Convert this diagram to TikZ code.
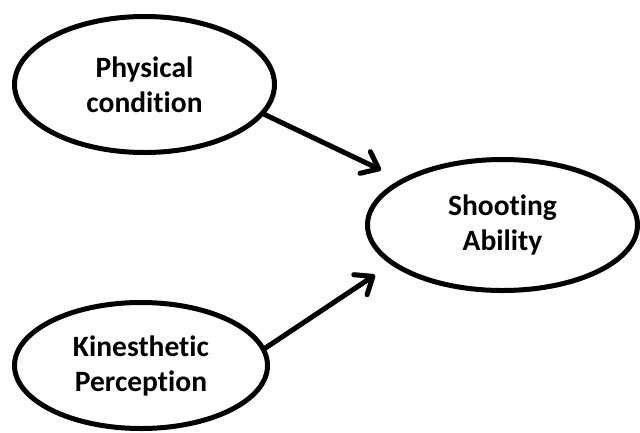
\documentclass[tikz,border=0pt]{standalone}
\usepackage{fontspec}
\setmainfont[Ligatures={NoCommon}]{Carlito}
\usetikzlibrary{shapes.geometric,arrows.meta}
\tikzset{
  oval/.style={ellipse, draw=black, line width=5pt, fill=white, inner sep=0pt,
    align=center, font=\bfseries\fontsize{29.5}{35}\selectfont},
  link/.style={line width=5pt, line cap=round,
    -{Straight Barb[length=15pt,width=24pt,line cap=round,line join=round]}},
  linkshadow/.style={link, draw=black, opacity=0.18, shift={(2.5pt,-3pt)}}
}
\begin{document}
\begin{tikzpicture}[x=1pt,y=-1pt]
\useasboundingbox (0,0) rectangle (640,432);
\node[oval, minimum width=260pt, minimum height=136pt] (pc) at (144.5,84.5) {Physical\\condition};
\node[oval, minimum width=270pt, minimum height=131pt] (sa) at (502.5,225) {Shooting\\Ability};
\node[oval, minimum width=253pt, minimum height=126pt] (kp) at (141,365.5) {Kinesthetic\\Perception};
\coordinate (t1) at (381,170);
\coordinate (t2) at (375,275);
\draw[linkshadow] (pc.-14) -- (t1);
\draw[linkshadow] (kp.8) -- (t2);
\draw[link] (pc.-14) -- (t1);
\draw[link] (kp.8) -- (t2);
\end{tikzpicture}
\end{document}
